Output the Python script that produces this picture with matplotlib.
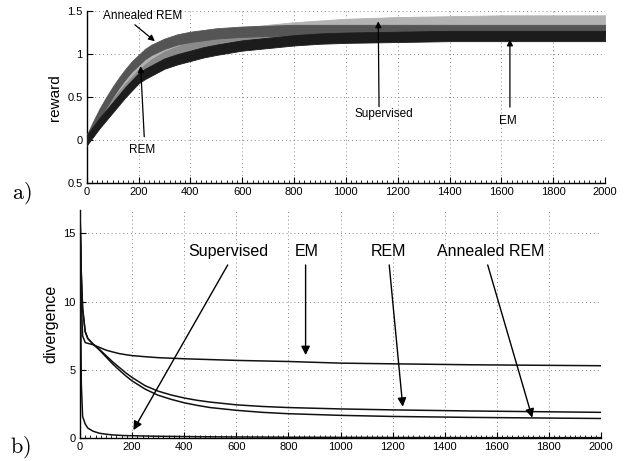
import matplotlib
matplotlib.use("Agg")
import matplotlib.pyplot as plt
from matplotlib.ticker import MultipleLocator

plt.rcParams['font.family'] = ['Liberation Sans', 'DejaVu Sans']
plt.rcParams['mathtext.fontset'] = 'cm'

# ---------------- data: panel a) reward (noisy curves as center + noise half-width) -------------
iters_a = [0, 25, 50, 75, 100, 125, 150, 175, 200, 225, 250, 300, 350, 400, 450, 500, 600, 700, 800, 900, 1000, 1200, 1400, 1600, 1800, 2000]
reward_annealed = [0.0, 0.16, 0.31, 0.44, 0.56, 0.67, 0.77, 0.86, 0.93, 1.00, 1.05, 1.12, 1.17, 1.20, 1.22, 1.24, 1.26, 1.27, 1.28, 1.28, 1.28, 1.28, 1.28, 1.28, 1.28, 1.28]
reward_supervised = [0.0, 0.14, 0.27, 0.39, 0.50, 0.61, 0.70, 0.79, 0.86, 0.92, 0.97, 1.04, 1.10, 1.14, 1.17, 1.20, 1.25, 1.28, 1.31, 1.33, 1.35, 1.37, 1.38, 1.39, 1.39, 1.39]
reward_rem = [0.0, 0.11, 0.22, 0.32, 0.42, 0.51, 0.60, 0.68, 0.76, 0.82, 0.88, 0.97, 1.03, 1.08, 1.11, 1.14, 1.18, 1.20, 1.22, 1.23, 1.24, 1.25, 1.26, 1.26, 1.26, 1.26]
reward_em = [0.0, 0.10, 0.20, 0.29, 0.38, 0.47, 0.56, 0.64, 0.72, 0.77, 0.81, 0.89, 0.94, 0.98, 1.02, 1.05, 1.10, 1.13, 1.16, 1.18, 1.19, 1.20, 1.21, 1.21, 1.21, 1.21]
noise_halfwidth = 0.06

# ---------------- data: panel b) divergence ----------------
iters_b = [0, 5, 10, 20, 30, 50, 75, 100, 125, 150, 175, 200, 250, 300, 350, 400, 450, 500, 600, 700, 800, 1000, 1200, 1500, 2000]
div_supervised = [16.7, 4.0, 1.6, 1.05, 0.75, 0.52, 0.37, 0.30, 0.25, 0.22, 0.20, 0.19, 0.17, 0.15, 0.14, 0.13, 0.12, 0.11, 0.10, 0.09, 0.08, 0.07, 0.06, 0.05, 0.05]
div_em = [16.7, 10.0, 7.5, 7.0, 6.95, 6.85, 6.65, 6.45, 6.32, 6.2, 6.12, 6.05, 5.97, 5.9, 5.86, 5.82, 5.79, 5.76, 5.7, 5.66, 5.62, 5.5, 5.45, 5.38, 5.31]
div_rem = [16.7, 12.0, 9.5, 7.8, 7.3, 6.9, 6.5, 6.05, 5.6, 5.2, 4.8, 4.45, 3.85, 3.45, 3.17, 2.95, 2.78, 2.65, 2.45, 2.33, 2.25, 2.15, 2.08, 2.0, 1.9]
div_annealed = [16.7, 12.0, 9.5, 7.8, 7.3, 6.9, 6.45, 5.95, 5.45, 5.0, 4.58, 4.2, 3.6, 3.15, 2.85, 2.6, 2.41, 2.25, 2.05, 1.9, 1.8, 1.68, 1.6, 1.53, 1.45]

xticks = list(range(0, 2001, 200))
yticks_a = [-0.5, 0, 0.5, 1, 1.5]
yticklabels_a = ['0.5', '0', '0.5', '1', '1.5']
yticks_b = [0, 5, 10, 15]

fig = plt.figure(figsize=(6.26, 4.61), dpi=100)
ax1 = fig.add_axes([0.1385, 0.6024, 0.828, 0.3737])
ax2 = fig.add_axes([0.1278, 0.0492, 0.8323, 0.4952])

grid_kw = dict(color='#888888', linestyle=(0, (1, 3)), linewidth=0.7)

for ax in (ax1, ax2):
    for s in ('top', 'right'):
        ax.spines[s].set_visible(False)
    ax.spines['left'].set_linewidth(1.0)
    ax.spines['bottom'].set_linewidth(1.0)
    ax.set_xlim(0, 2000)
    ax.set_xticks(xticks)
    ax.xaxis.set_minor_locator(MultipleLocator(20))
    ax.tick_params(which='major', direction='in', length=4, width=0.8, labelsize=8, pad=3)
    ax.tick_params(which='minor', direction='in', length=2, width=0.6)
    ax.grid(True, which='major', **grid_kw)
    ax.set_axisbelow(True)

# ---- panel a ----
series_a = [
    (reward_supervised, '#b3b3b3'),
    (reward_rem, '#8a8a8a'),
    (reward_annealed, '#555555'),
    (reward_em, '#1c1c1c'),
]
for vals, col in series_a:
    lo = [v - noise_halfwidth for v in vals]
    hi = [v + noise_halfwidth for v in vals]
    ax1.fill_between(iters_a, lo, hi, color=col, linewidth=0.6, edgecolor=col, zorder=3)

ax1.set_ylim(-0.5, 1.5)
ax1.set_yticks(yticks_a)
ax1.set_yticklabels(yticklabels_a)
ax1.set_ylabel('reward', fontsize=11, labelpad=4)

arr_small = dict(arrowstyle='-|>', color='black', lw=0.9, mutation_scale=9, shrinkA=0, shrinkB=0)
ax1.annotate('', xy=(263, 1.15), xytext=(186, 1.34), arrowprops=arr_small, zorder=5)
ax1.text(215, 1.445, 'Annealed REM', fontsize=8.5, ha='center', va='center', zorder=5)
ax1.annotate('', xy=(208, 0.86), xytext=(222, 0.04), arrowprops=arr_small, zorder=5)
ax1.text(214, -0.113, 'REM', fontsize=8.5, ha='center', va='center', zorder=5)
ax1.annotate('', xy=(1125, 1.38), xytext=(1128, 0.39), arrowprops=arr_small, zorder=5)
ax1.text(1147, 0.306, 'Supervised', fontsize=8.5, ha='center', va='center', zorder=5)
ax1.annotate('', xy=(1633, 1.17), xytext=(1633, 0.384), arrowprops=arr_small, zorder=5)
ax1.text(1625, 0.224, 'EM', fontsize=8.5, ha='center', va='center', zorder=5)

# ---- panel b ----
for vals in (div_supervised, div_em, div_rem, div_annealed):
    ax2.plot(iters_b, vals, color='#111111', linewidth=1.1, zorder=3)

ax2.set_ylim(0, 16.7)
ax2.set_yticks(yticks_b)
ax2.set_ylabel('divergence', fontsize=11.5, labelpad=4)

arr_big = dict(arrowstyle='-|>', color='black', lw=1.0, mutation_scale=13, shrinkA=0, shrinkB=0)
ty = 13.7
tail_y = 12.68
ax2.text(570, ty, 'Supervised', fontsize=11.5, ha='center', va='center', zorder=5)
ax2.annotate('', xy=(205, 0.6), xytext=(567, tail_y), arrowprops=arr_big, zorder=5)
ax2.text(871, ty, 'EM', fontsize=11.5, ha='center', va='center', zorder=5)
ax2.annotate('', xy=(866, 6.09), xytext=(866, tail_y), arrowprops=arr_big, zorder=5)
ax2.text(1183, ty, 'REM', fontsize=11.5, ha='center', va='center', zorder=5)
ax2.annotate('', xy=(1239, 2.31), xytext=(1187, tail_y), arrowprops=arr_big, zorder=5)
ax2.text(1576, ty, 'Annealed REM', fontsize=11.5, ha='center', va='center', zorder=5)
ax2.annotate('', xy=(1736, 1.51), xytext=(1565, tail_y), arrowprops=arr_big, zorder=5)

# panel letters
fig.text(21.5 / 626, 1 - 193 / 461, r'$\mathrm{a)}$', fontsize=16, ha='center', va='center')
fig.text(20.5 / 626, 1 - 447 / 461, r'$\mathrm{b)}$', fontsize=16, ha='center', va='center')

fig.savefig('out.png', dpi=100)
